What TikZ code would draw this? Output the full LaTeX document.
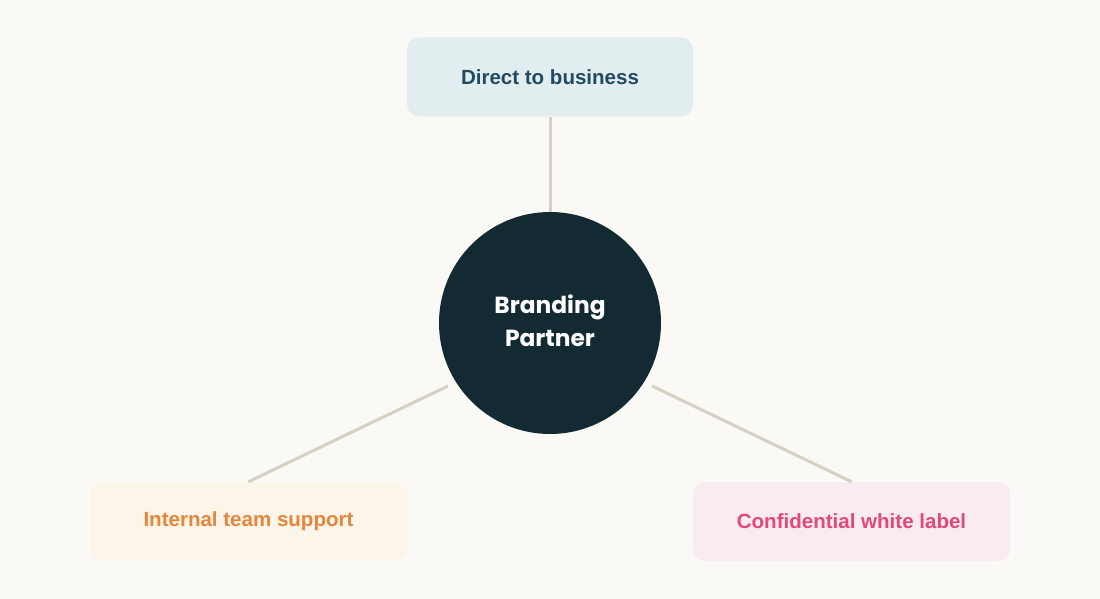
\documentclass[tikz,border=0pt]{standalone}
\usepackage{fontspec}
\setmainfont{Liberation Sans}
\newfontfamily\popfont{Poppins}
\definecolor{bg}{HTML}{FAF9F5}
\definecolor{linec}{HTML}{D3D2C2}
\definecolor{circ}{HTML}{132A33}
\definecolor{topfill}{HTML}{E2EDF0}
\definecolor{toptext}{HTML}{224A60}
\definecolor{leftfill}{HTML}{FCF6EA}
\definecolor{lefttext}{HTML}{E8853A}
\definecolor{rightfill}{HTML}{F9ECF0}
\definecolor{righttext}{HTML}{E4477A}
\tikzset{
  box/.style={rectangle, rounded corners=9pt, inner sep=0pt, font=\bfseries\fontsize{15.4pt}{18pt}\selectfont},
  conn/.style={draw=linec, line width=2.25pt},
}
\begin{document}
\begin{tikzpicture}[x=0.75pt,y=-0.75pt]
\useasboundingbox[fill=bg] (0,0) rectangle (1100,599);
\node[box, fill=topfill, text=toptext, minimum width=214.5pt, minimum height=59.25pt] (top) at (550,77) {Direct to business};
\node[box, fill=leftfill, text=lefttext, minimum width=237.75pt, minimum height=58.5pt] (left) at (248.5,521) {Internal team support};
\node[box, fill=rightfill, text=righttext, minimum width=237.75pt, minimum height=59.25pt] (right) at (851.5,521.5) {Confidential white label};
\node[circle, fill=circ, minimum size=166.5pt, inner sep=0pt] (hub) at (550,323) {};
\node[text=white, align=center, font=\popfont\bfseries\fontsize{17.5pt}{24.75pt}\selectfont] (hubtext) at (550,321) {Branding\\Partner};
\coordinate (lend) at (448,386);
\coordinate (rend) at (652,386);
\draw[conn] (top.south) -- (hub.north);
\draw[conn] (left.north) -- (lend);
\draw[conn] (right.north) -- (rend);
\end{tikzpicture}
\end{document}
